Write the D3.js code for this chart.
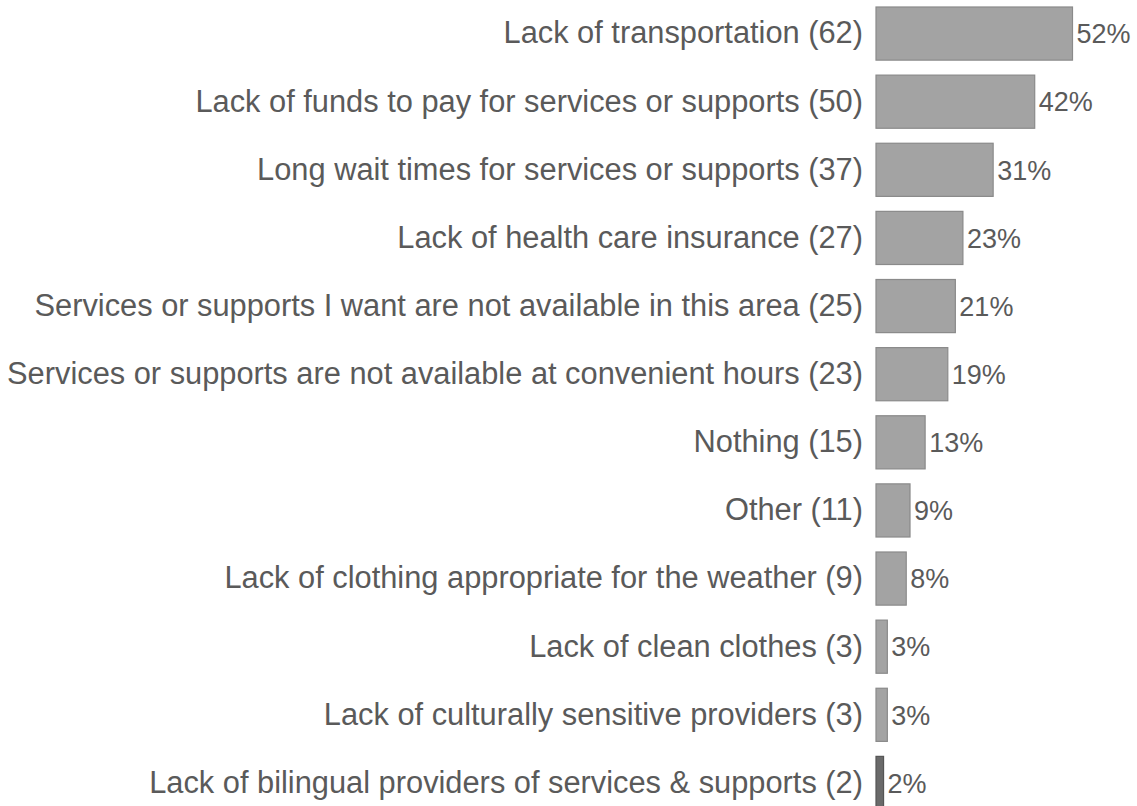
<!DOCTYPE html>
<html>
<head>
<meta charset="utf-8">
<script src="https://cdn.jsdelivr.net/npm/d3@7"></script>
<style>
  html, body { margin: 0; padding: 0; background: #fff; }
  svg { display: block; }
</style>
</head>
<body>
<svg id="chart" width="1137" height="806"></svg>
<script>
// Barriers to services and supports: respondent counts and share of respondents
const categories = [
  "Lack of transportation",
  "Lack of funds to pay for services or supports",
  "Long wait times for services or supports",
  "Lack of health care insurance",
  "Services or supports I want are not available in this area",
  "Services or supports are not available at convenient hours",
  "Nothing",
  "Other",
  "Lack of clothing appropriate for the weather",
  "Lack of clean clothes",
  "Lack of culturally sensitive providers",
  "Lack of bilingual providers of services & supports"
];
const counts = [62, 50, 37, 27, 25, 23, 15, 11, 9, 3, 3, 2];
const percents = [52, 42, 31, 23, 21, 19, 13, 9, 8, 3, 3, 2];

const rows = categories.map((c, i) => ({ category: c, count: counts[i], pct: percents[i] }));

const svg = d3.select("#chart");
const barLeft = 876;
const textColor = "#5a5a5a";
const font = "Liberation Sans, Arial, Helvetica, sans-serif";

const x = d3.scaleLinear().domain([0, 52]).range([barLeft, 1072.5]);
const y = d3.scaleBand()
  .domain(categories)
  .range([-0.5, 817])
  .paddingInner(0.22)
  .paddingOuter(0.11);

// bars
svg.append("g").selectAll("rect")
  .data(rows)
  .join("rect")
  .attr("x", x(0))
  .attr("y", d => y(d.category))
  .attr("width", d => x(d.pct) - x(0))
  .attr("height", y.bandwidth())
  .attr("fill", (d, i) => i === rows.length - 1 ? "#6a6a6a" : "#a3a3a3")
  .attr("stroke", (d, i) => i === rows.length - 1 ? "#555" : "#8a8a8a")
  .attr("stroke-width", 1.2);

// category labels with counts
svg.append("g").selectAll("text")
  .data(rows)
  .join("text")
  .attr("x", barLeft - 13)
  .attr("y", d => y(d.category) + y.bandwidth() / 2)
  .attr("dy", "0.32em")
  .attr("text-anchor", "end")
  .attr("fill", textColor)
  .style("font-family", font)
  .style("font-size", "30.8px")
  .text(d => `${d.category} (${d.count})`);

// percentage labels
svg.append("g").selectAll("text")
  .data(rows)
  .join("text")
  .attr("x", d => x(d.pct) + 4)
  .attr("y", d => y(d.category) + y.bandwidth() / 2)
  .attr("dy", "0.36em")
  .attr("fill", textColor)
  .style("font-family", font)
  .style("font-size", "27px")
  .text(d => `${d.pct}%`);
</script>
</body>
</html>
